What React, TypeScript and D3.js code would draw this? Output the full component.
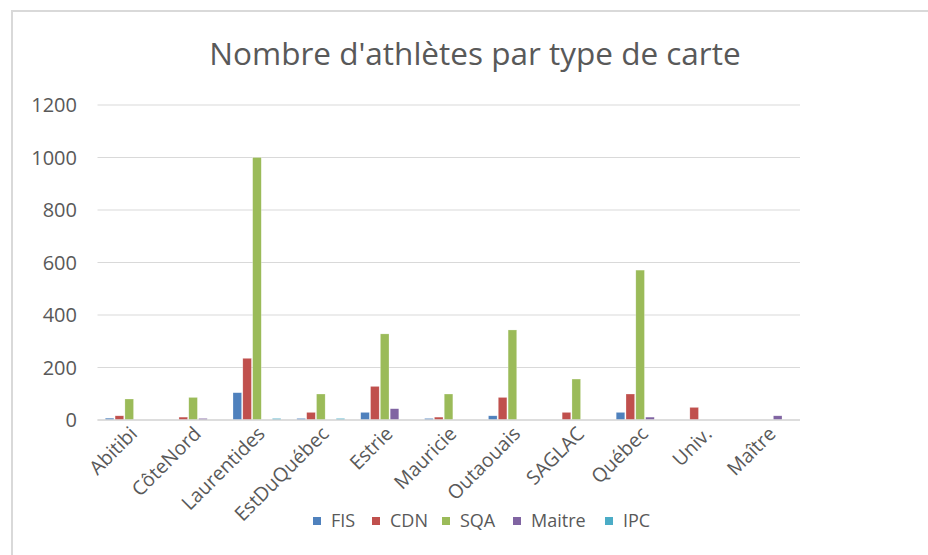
import React from "react";
import * as d3 from "d3";

const categories = ["Abitibi", "CôteNord", "Laurentides", "EstDuQuébec", "Estrie", "Mauricie", "Outaouais", "SAGLAC", "Québec", "Univ.", "Maître"];
const seriesNames = ["FIS", "CDN", "SQA", "Maitre", "IPC"];
const FIS = [7, 0, 104, 6, 29, 6, 16, 0, 29, 0, 0];
const CDN = [16, 11, 235, 29, 128, 11, 86, 29, 99, 48, 0];
const SQA = [80, 86, 1000, 99, 328, 99, 343, 156, 571, 0, 0];
const Maitre = [0, 6, 0, 0, 43, 0, 0, 0, 11, 0, 16];
const IPC = [0, 0, 6, 6, 0, 0, 0, 0, 0, 0, 0];
const yTicks = [0, 200, 400, 600, 800, 1000, 1200];
const colors = ["#4F81BD", "#C0504D", "#9BBB59", "#8064A2", "#4BACC6"];

const W = 928, H = 555;
const m = { left: 97.5, right: 800, top: 105, bottom: 420 };
const font = "'Open Sans', sans-serif";

export default function App() {
  const seriesValues = [FIS, CDN, SQA, Maitre, IPC];
  const x = d3.scaleBand<string>().domain(categories).range([m.left, m.right]).paddingInner(0).paddingOuter(0);
  const inner = d3.scaleBand<string>().domain(seriesNames).range([0, x.bandwidth()]).paddingOuter(0.75).paddingInner(0);
  const y = d3.scaleLinear().domain([0, 1200]).range([m.bottom, m.top]);
  const legendX = [313, 372, 442, 513, 605];
  return (
    <svg width={W} height={H} style={{ position: "absolute", left: 0, top: 0, background: "#fff" }}>
      <rect x={12} y={11} width={W} height={H} fill="#fff" stroke="#d9d9d9" strokeWidth={2} />
      <text x={475} y={65} textAnchor="middle" fontFamily={font} fontSize={31.5} fill="#595959">Nombre d'athlètes par type de carte</text>
      {yTicks.map((t) => (
        <g key={t}>
          <line x1={m.left} x2={m.right} y1={y(t)} y2={y(t)} stroke="#d9d9d9" strokeWidth={1} />
          <text x={77} y={y(t)} dy="0.35em" textAnchor="end" fontFamily={font} fontSize={20} fill="#595959">{t}</text>
        </g>
      ))}
      {categories.map((c, i) => (
        <g key={c}>
          {seriesValues.map((vals, s) => {
            const v = vals[i];
            if (!v) return null;
            const bx = (x(c) as number) + (inner(seriesNames[s]) as number);
            return (
              <rect key={s} x={bx + 0.4} y={y(v)} width={inner.bandwidth() - 1.2} height={y(0) - y(v)} fill={colors[s]} stroke="#fff" strokeOpacity={0.5} strokeWidth={0.5} />
            );
          })}
          <text transform={`translate(${(x(c) as number) + x.bandwidth() / 2 + 9},${435}) rotate(-45)`} textAnchor="end" fontFamily={font} fontSize={19.5} fill="#595959">{c}</text>
        </g>
      ))}
      <line x1={m.left} x2={m.right} y1={y(0)} y2={y(0)} stroke="#d9d9d9" strokeWidth={1.5} />
      {seriesNames.map((n, s) => (
        <g key={n}>
          <rect x={legendX[s]} y={517} width={8} height={8} fill={colors[s]} />
          <text x={legendX[s] + 18} y={521} dy="0.35em" fontFamily={font} fontSize={18} fill="#595959">{n}</text>
        </g>
      ))}
    </svg>
  );
}
